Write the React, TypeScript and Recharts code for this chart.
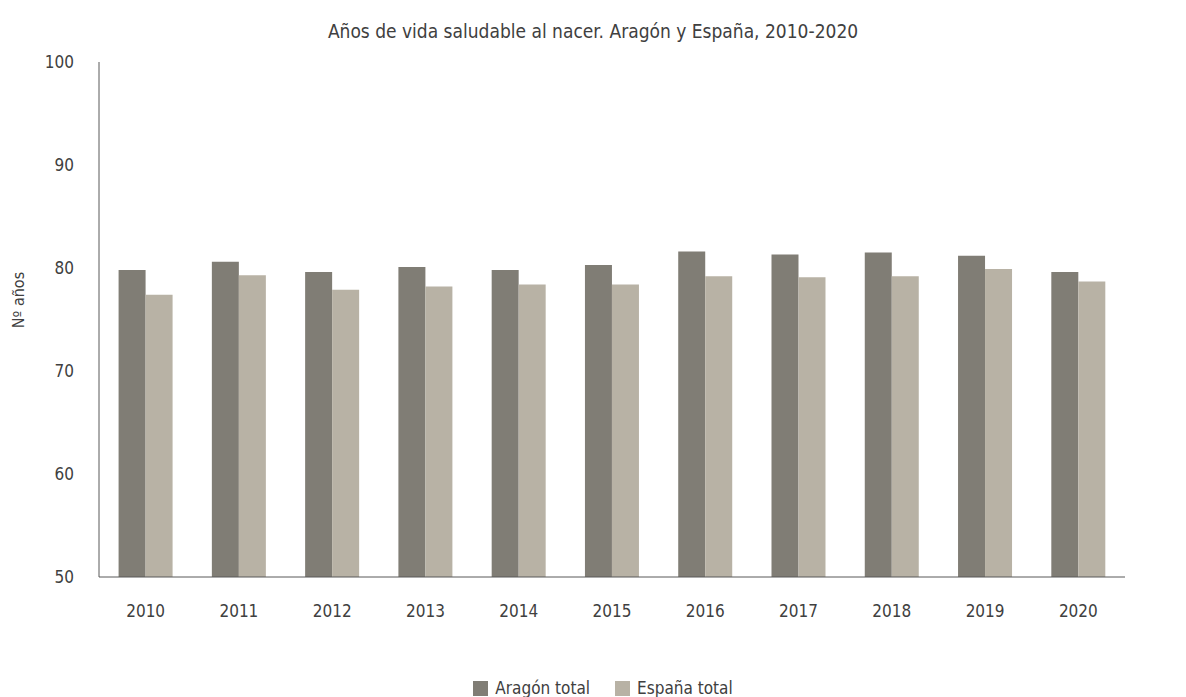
import React from 'react';
import { BarChart, Bar, XAxis, YAxis, Legend } from 'recharts';

const years = ['2010', '2011', '2012', '2013', '2014', '2015', '2016', '2017', '2018', '2019', '2020'];
const aragonTotal = [79.8, 80.6, 79.6, 80.1, 79.8, 80.3, 81.6, 81.3, 81.5, 81.2, 79.6];
const espanaTotal = [77.4, 79.3, 77.9, 78.2, 78.4, 78.4, 79.2, 79.1, 79.2, 79.9, 78.7];
const yTicks = [50, 60, 70, 80, 90, 100];

const data = years.map((y, i) => ({ year: y, aragon: aragonTotal[i], espana: espanaTotal[i] }));

const FONT = '"DejaVu Sans Condensed", "Liberation Sans Narrow", sans-serif';
const TEXT = '#404040';

const renderLegend = (props: any) => {
  const { payload } = props;
  return (
    <div style={{ display: 'flex', justifyContent: 'center', gap: 25, paddingLeft: 20, fontFamily: FONT, fontSize: 17, color: TEXT }}>
      {(payload || []).map((entry: any) => (
        <div key={entry.value} style={{ display: 'flex', alignItems: 'center' }}>
          <span style={{ display: 'inline-block', width: 15, height: 15, background: entry.color, marginRight: 7 }} />
          <span>{entry.value}</span>
        </div>
      ))}
    </div>
  );
};

export default function App() {
  return (
    <div style={{ position: 'absolute', left: 0, top: 0, width: 1186, height: 697, background: '#fff', fontFamily: FONT }}>
      <div style={{ position: 'absolute', top: 20, left: 0, width: 1186, textAlign: 'center', fontSize: 19, color: TEXT }}>
        Años de vida saludable al nacer. Aragón y España, 2010-2020
      </div>
      <div style={{ position: 'absolute', left: 18, top: 300, transform: 'translate(-50%, -50%) rotate(-90deg)', fontSize: 16, color: TEXT, whiteSpace: 'nowrap' }}>
        Nº años
      </div>
      <BarChart
        width={1186}
        height={697}
        data={data}
        margin={{ top: 62, right: 61, left: 20, bottom: 20 }}
        barCategoryGap="21%"
        barGap={0}
      >
        <XAxis
          dataKey="year"
          tickLine={false}
          axisLine={{ stroke: '#595959' }}
          tick={{ fill: TEXT, fontSize: 17, fontFamily: FONT }}
          tickMargin={22}
          height={80}
        />
        <YAxis
          domain={[50, 100]}
          ticks={yTicks}
          tickLine={false}
          axisLine={{ stroke: '#595959' }}
          tick={{ fill: TEXT, fontSize: 17, fontFamily: FONT }}
          tickMargin={19}
          width={79}
          allowDataOverflow
        />
        <Legend
          verticalAlign="bottom"
          content={renderLegend}
          wrapperStyle={{ position: 'absolute', top: 678, left: 0, width: 1186 }}
        />
        <Bar dataKey="aragon" name="Aragón total" fill="#807d75" isAnimationActive={false} />
        <Bar dataKey="espana" name="España total" fill="#b8b2a5" isAnimationActive={false} />
      </BarChart>
    </div>
  );
}
